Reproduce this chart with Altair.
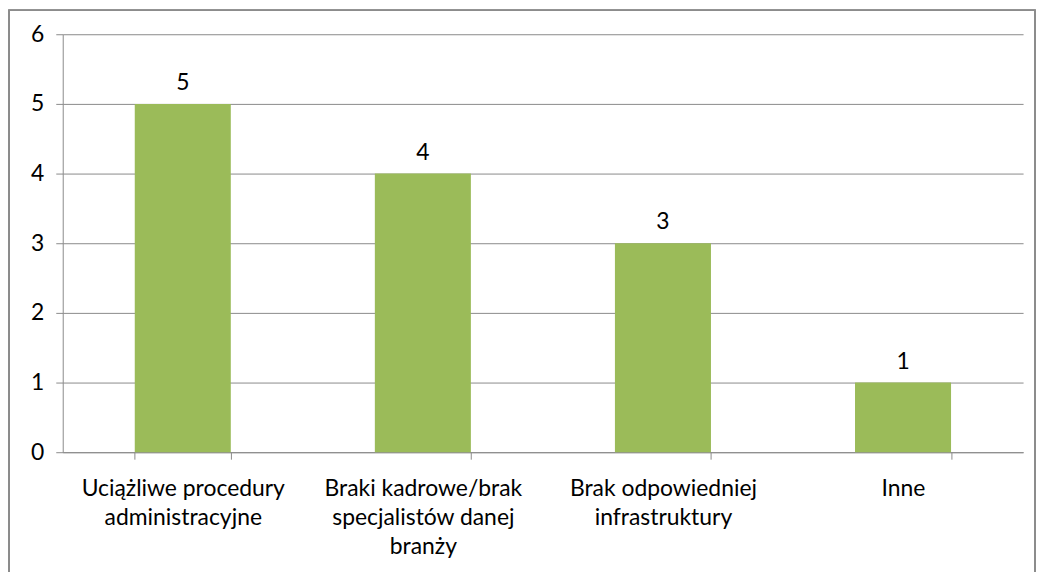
import altair as alt
import pandas as pd

categories = [
    "Uciążliwe procedury\nadministracyjne",
    "Braki kadrowe/brak\nspecjalistów danej\nbranży",
    "Brak odpowiedniej\ninfrastruktury",
    "Inne",
]
values = [5, 4, 3, 1]

df = pd.DataFrame({"kategoria": categories, "liczba": values})

FONT = "Lato"
GRID = "#8a8a8a"
FS = 23

x = alt.X(
    "kategoria:N",
    sort=categories,
    title=None,
    scale=alt.Scale(paddingInner=0.6, paddingOuter=0.3),
    axis=alt.Axis(
        labelAngle=0,
        labelExpr="split(datum.label, '\\n')",
        labelFontSize=FS,
        labelLineHeight=29,
        labelPadding=19,
        labelBaseline="top",
        labelColor="#000000",
        labelFont=FONT,
        tickBand="extent",
        tickSize=7,
        tickColor=GRID,
        domainColor=GRID,
        labelLimit=400,
    ),
)

y = alt.Y(
    "liczba:Q",
    title=None,
    scale=alt.Scale(domain=[0, 6]),
    axis=alt.Axis(
        values=[0, 1, 2, 3, 4, 5, 6],
        labelFontSize=FS,
        labelColor="#000000",
        labelFont=FONT,
        labelPadding=12,
        tickSize=7,
        tickColor=GRID,
        domainColor=GRID,
        gridColor=GRID,
        grid=True,
    ),
)

base = alt.Chart(df)

bars = base.mark_bar(color="#9bbb59").encode(x=x, y=y)
text = base.mark_text(
    baseline="alphabetic", dy=-14, fontSize=FS, font=FONT, color="#000000"
).encode(x=x, y=y, text="liczba:Q")

border = base.mark_rect(
    fill=None, stroke="#8c8c8c", strokeWidth=1.5, clip=False
).encode(
    x=alt.value(-54), x2=alt.value(977), y=alt.value(-24), y2=alt.value(620)
)

chart = (
    alt.layer(bars, text, border)
    .properties(
        width=965,
        height=420,
        autosize=alt.AutoSizeParams(type="none"),
        padding={"left": 55, "top": 25, "right": 15, "bottom": 119},
        background="#ffffff",
    )
    .configure_view(stroke=None)
)

chart.save("out.html", embed_options={"renderer": "svg", "actions": False})
